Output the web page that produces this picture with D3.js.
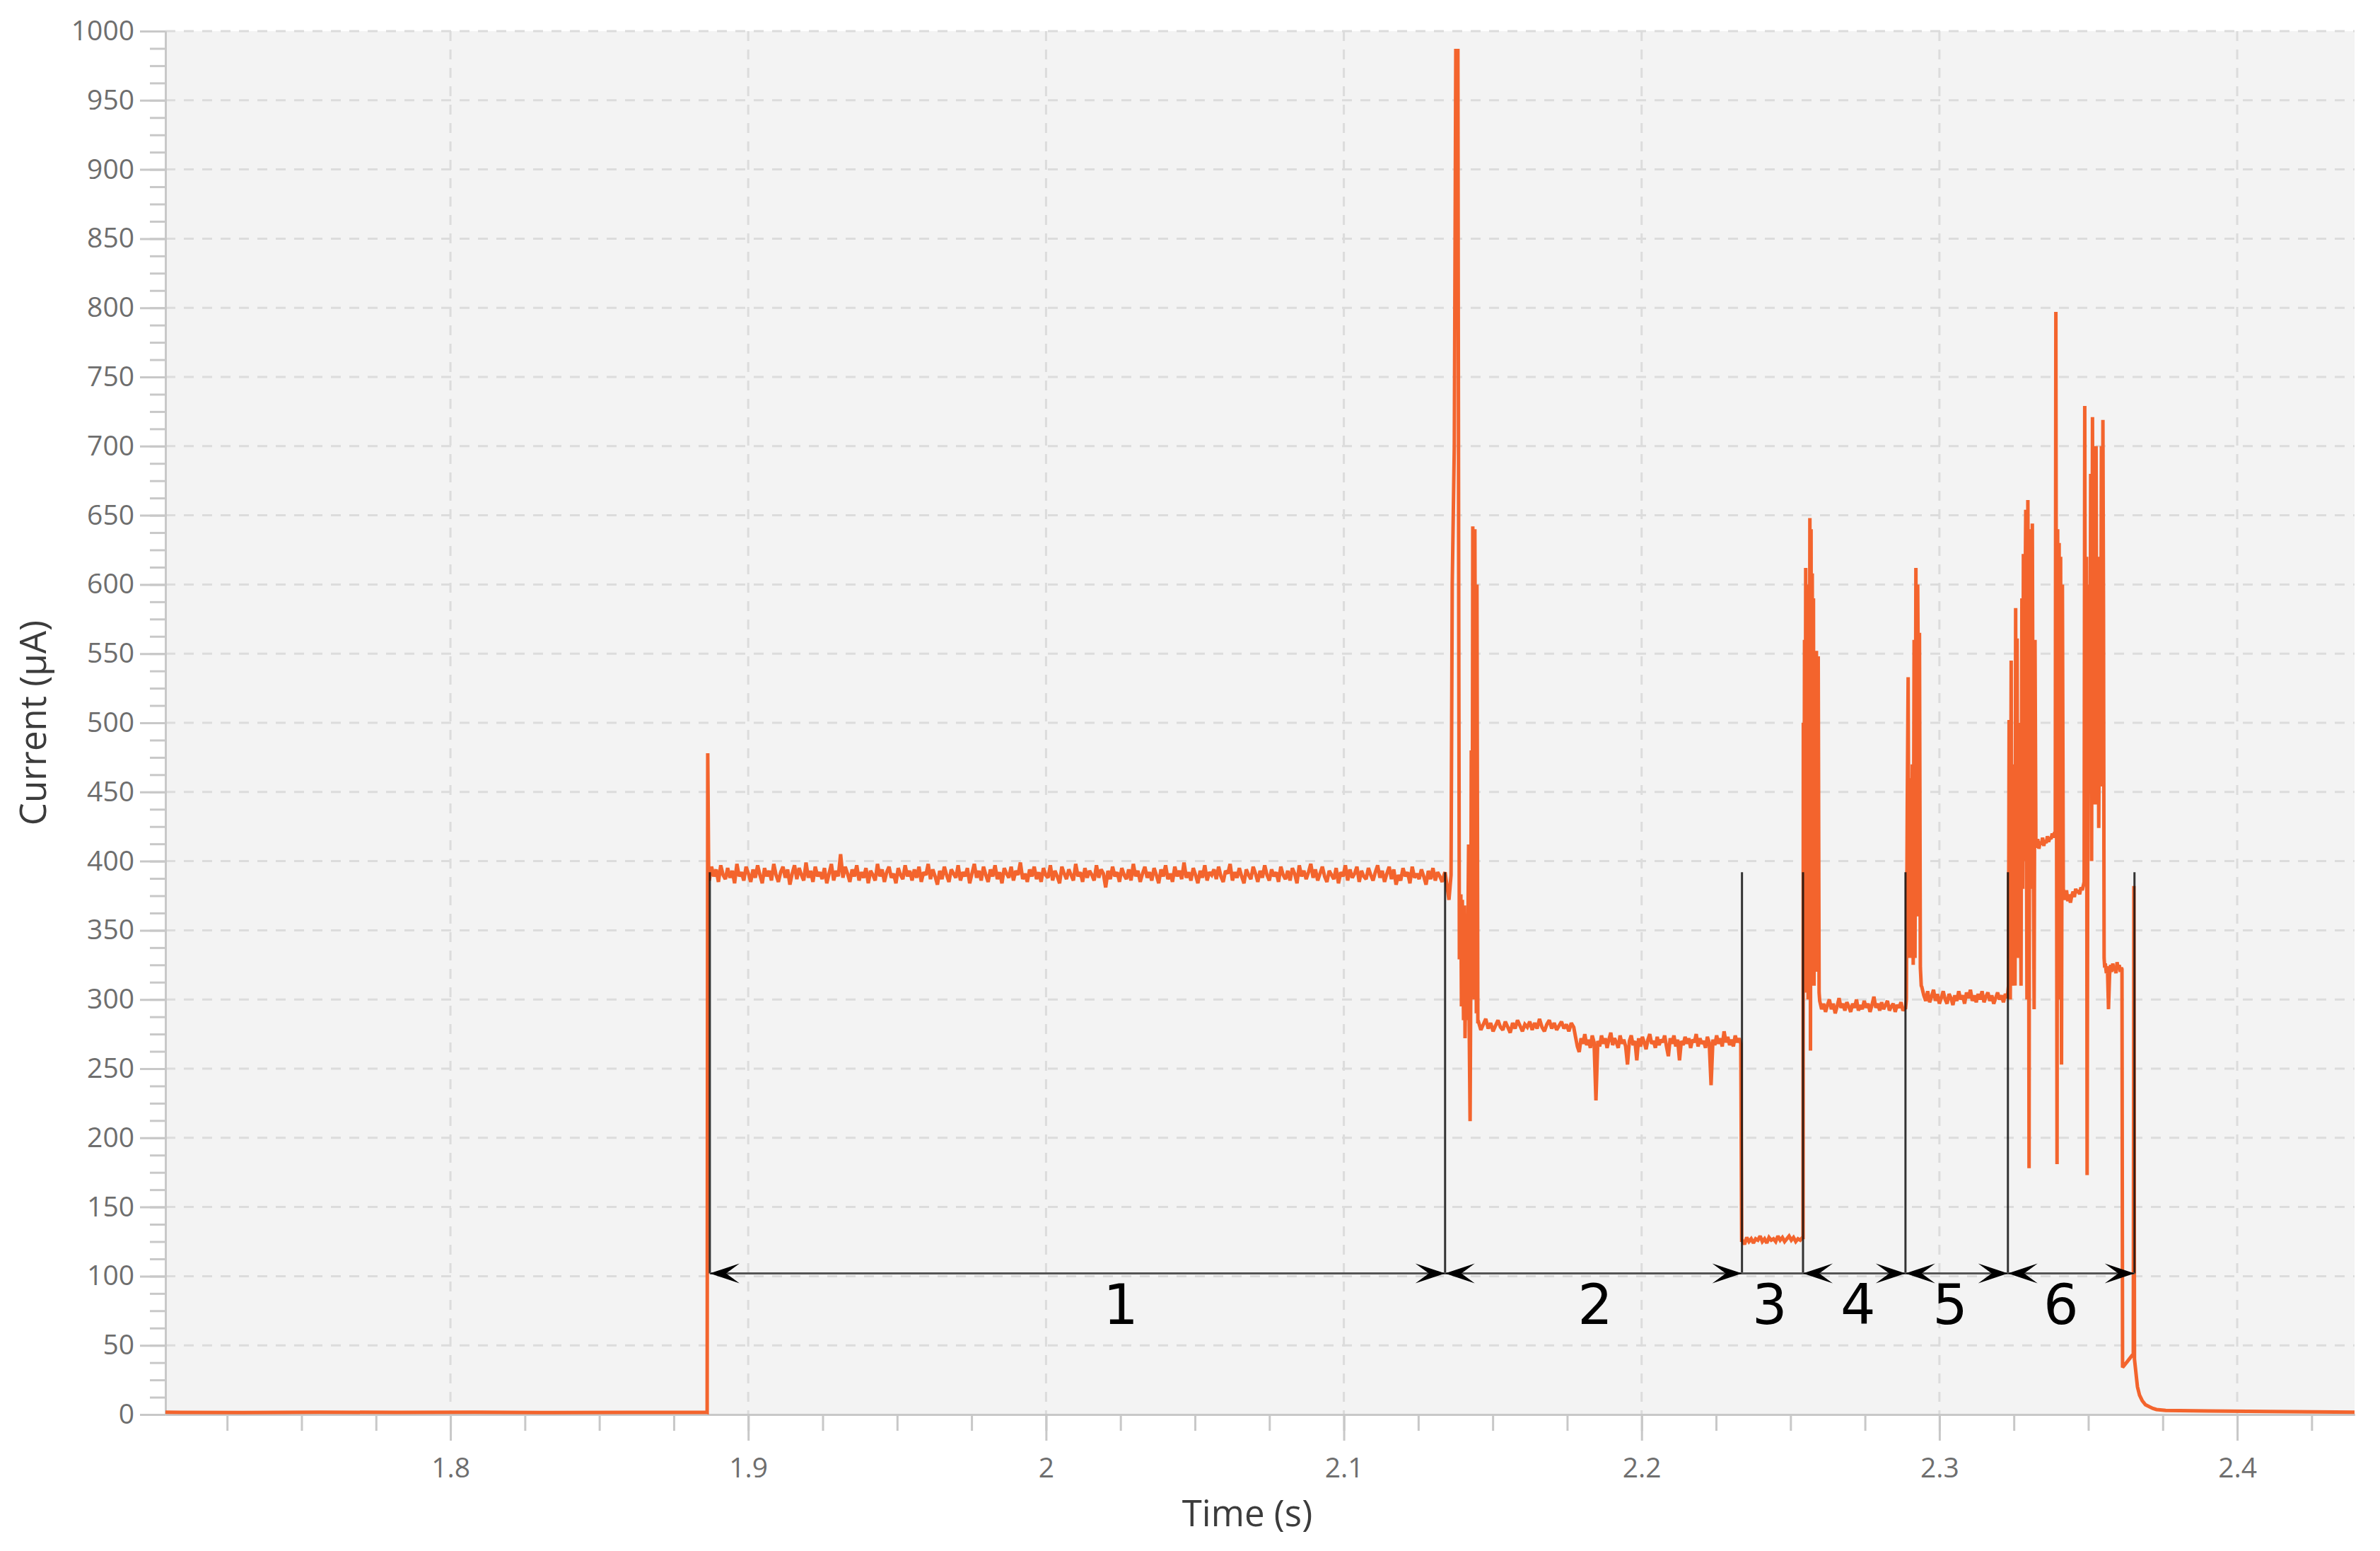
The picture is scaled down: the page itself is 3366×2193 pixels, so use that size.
<!DOCTYPE html>
<html>
<head>
<meta charset="utf-8">
<script src="https://cdn.jsdelivr.net/npm/d3@7"></script>
<style>
  body { margin: 0; background: #ffffff; }
  svg { display: block; }
  .axis text { font-family: "Open Sans", sans-serif; font-size: 39px; fill: #6e6e6e; }
  .axis line, .axis path { stroke: #c8c8c8; stroke-width: 3px; }
  .grid line { stroke: #dcdcdc; stroke-width: 3px; stroke-dasharray: 14 12; }
  .title { font-family: "Open Sans", sans-serif; font-size: 51px; fill: #3c3c3c; }
  .seg-label { font-family: "DejaVu Sans", sans-serif; font-size: 78px; fill: #000; }
</style>
</head>
<body>
<div class="svg-container"></div>
<script>

// ---- data (time in s, current in uA) ----

// axis ranges and ticks
var timeRange = [1.7043, 2.4394];
var currentRange = [0, 1000];
var timeTicks = [1.8, 1.9, 2.0, 2.1, 2.2, 2.3, 2.4];
var currentTicks = d3.range(0, 1001, 50);

// idle before wake-up (evenly spread samples)
var restValues = [1.6, 1.4, 1.7, 1.5, 1.6, 1.4, 1.5, 1.6];

// wake-up edge
var wakeEdge = [[1.8862, 1.5], [1.8864, 478], [1.8867, 395]];

// phase 1 plateau
var phase1Values = [
  386,396,389,394,385,397,390,387,395,388,
  393,384,398,389,392,386,396,391,385,394,
  388,397,390,384,395,389,393,386,398,390,
  385,392,396,388,394,383,391,397,387,395,
  390,386,399,388,393,385,396,389,392,387,
  395,384,391,398,386,393,389,405,388,396,
  391,385,394,389,397,386,392,388,395,384,
  393,390,386,398,389,394,385,392,396,388,
  391,384,395,390,387,397,389,393,386,394,
  388,396,385,392,390,398,387,394,389,383,
  393,387,396,390,385,394,391,388,397,386,
  392,389,395,384,391,398,388,393,386,396,
  390,385,394,389,397,387,392,384,395,391,
  388,396,386,393,390,399,387,391,385,394,
  389,396,387,392,385,395,390,388,397,386,
  393,389,384,396,391,387,394,390,386,398,
  389,392,385,395,388,393,390,386,397,388,
  394,391,381,393,387,396,389,392,385,395,
  390,387,394,386,398,389,393,385,391,396,
  388,392,386,395,390,384,394,389,397,387,
  391,385,396,389,393,387,399,388,392,386,
  395,390,384,393,388,397,386,392,390,394,
  387,396,389,385,393,391,398,386,392,388,
  395,389,384,394,390,387,396,391,385,393,
  388,397,390,386,394,389,392,385,396,390,
  387,393,386,395,391,384,397,389,393,387,
  392,398,388,394,386,391,396,389,385,393,
  390,387,395,384,392,389,397,386,394,388,
  391,396,385,393,389,387,395,390,386,392,
  397,388,393,385,391,396,387,394,383,390,
  386,395,389,392,384,396,388,391,387,394,
  389,383,393,387,395,386,392,389,385,391
];

// burst at the start of phase 2
var burst2 = [
  [2.1340, 392], [2.1353, 372], [2.1360, 390], [2.1364, 600], [2.1371, 700],
  [2.1376, 986], [2.1383, 986], [2.1386, 560], [2.1388, 329], [2.1393, 376],
  [2.1395, 295], [2.1398, 372], [2.1402, 285], [2.1405, 368], [2.1407, 272],
  [2.1412, 360], [2.1414, 285], [2.1419, 412], [2.1421, 280], [2.1424, 212],
  [2.1426, 300], [2.1428, 480], [2.1431, 320], [2.1433, 642], [2.1438, 300],
  [2.1440, 640], [2.1445, 290], [2.1447, 600], [2.1450, 284]
];

var phase2aValues = [
  284,278,282,286,279,283,277,281,285,280,
  278,284,280,276,283,279,285,281,277,282,
  280,284,278,283,279,286,280,277,282,285,
  279,283,278,281,284,279,282,277,283,280
];

var phase2bValues = [
  273,266,262,272,268,275,267,271,265,274,
  269,227,270,266,274,268,272,265,271,276,
  267,272,269,265,274,268,271,266,253,270,
  274,267,270,256,272,266,273,269,264,271,
  275,268,270,265,273,267,271,269,274,266,
  259,272,268,274,266,271,256,270,267,273,
  268,272,265,271,269,275,266,272,268,270,
  265,273,269,238,271,267,274,268,272,266,
  277,269,273,267,271,266,274,269,272,268
];

var phase3Values = [
  126,123,128,125,127,124,127,126,129,125,127,124,128,126,
  127,125,129,126,128,125,127,129,126,128,125,127,126,128
];

var burst4 = [
  [2.2542, 128], [2.2543, 500], [2.2545, 310], [2.2547, 560], [2.2549, 320],
  [2.2551, 612], [2.2553, 305], [2.2555, 600], [2.2557, 420], [2.2559, 300],
  [2.2561, 560], [2.2563, 320], [2.2565, 648], [2.2567, 263], [2.2569, 640],
  [2.2571, 330], [2.2573, 608], [2.2575, 340], [2.2577, 590], [2.2579, 310],
  [2.2581, 550], [2.2584, 320], [2.2587, 552], [2.2590, 330], [2.2593, 548],
  [2.2596, 305]
];

var phase4Values = [
  299,293,297,291,296,300,293,297,290,295,301,294,297,292,298,
  295,291,297,294,300,292,296,293,299,294,297,291,296,302,294,
  297,292,298,293,296,299,292,295,297,291,296,294,298,292,294
];

var burst5 = [
  [2.2886, 293], [2.2889, 300], [2.2892, 440], [2.2895, 533], [2.2898, 330],
  [2.2900, 460], [2.2903, 455], [2.2906, 330], [2.2909, 470], [2.2912, 325],
  [2.2915, 560], [2.2918, 330], [2.2921, 612], [2.2924, 360], [2.2927, 600],
  [2.2930, 500], [2.2933, 565], [2.2936, 323], [2.2939, 310]
];

var phase5Values = [
  309,303,299,306,298,302,307,299,304,297,301,306,300,297,304,
  301,296,303,299,306,300,303,297,305,301,307,299,303,298,304,
  300,306,298,302,305,299,303,297,301,305,300,303,298,304,301
];

var burst6a = [
  [2.3229, 303], [2.3232, 310], [2.3234, 502], [2.3236, 320], [2.3238, 300],
  [2.3241, 545], [2.3243, 310], [2.3246, 470], [2.3248, 320], [2.3251, 400],
  [2.3254, 310], [2.3256, 583], [2.3258, 340], [2.3261, 561], [2.3263, 330],
  [2.3266, 500], [2.3268, 335], [2.3271, 420], [2.3274, 310], [2.3277, 590],
  [2.3280, 380], [2.3282, 622], [2.3285, 400], [2.3288, 600], [2.3290, 654],
  [2.3292, 450], [2.3294, 300], [2.3297, 661], [2.3299, 500], [2.3301, 178],
  [2.3303, 560], [2.3306, 640], [2.3309, 380], [2.3312, 644], [2.3315, 420],
  [2.3318, 293], [2.3321, 560], [2.3324, 410]
];
var phase6aValues = [411,416,409,414,412,417,411,415,413,418,414,417,416,420,417,421];

var burst6b = [
  [2.3389, 419], [2.3391, 797], [2.3393, 500], [2.3395, 181], [2.3397, 640],
  [2.3400, 300], [2.3402, 630], [2.3405, 400], [2.3407, 620], [2.3410, 253],
  [2.3413, 600], [2.3416, 380]
];
var phase6bValues = [377,372,379,371,376,370,375,378,374,380,377,379,376,381,379,383];

var burst6c = [
  [2.3486, 385], [2.3488, 729], [2.3491, 400], [2.3494, 620], [2.3496, 173],
  [2.3499, 500], [2.3502, 600], [2.3505, 454], [2.3508, 680], [2.3511, 400],
  [2.3514, 721], [2.3517, 450], [2.3520, 640], [2.3523, 441], [2.3526, 700],
  [2.3529, 459], [2.3532, 620], [2.3535, 424], [2.3538, 560], [2.3541, 454],
  [2.3544, 700], [2.3547, 500], [2.3549, 719], [2.3551, 580], [2.3553, 330],
  [2.3555, 323]
];
var phase6cValues = [326,319,324,293,318,325,320,326,321,324,319,327,322,325,320,323];

// shutdown and decay
var shutdown = [
  [2.3613, 322], [2.3615, 34], [2.3630, 38], [2.3648, 43], [2.3651, 42],
  [2.3653, 382], [2.3655, 40], [2.3658, 34], [2.3662, 26], [2.3665, 20],
  [2.3672, 14], [2.3681, 10], [2.3692, 7], [2.3705, 5.6], [2.3717, 4.4],
  [2.3729, 3.6], [2.3760, 3], [2.3900, 2.6], [2.4100, 2.2], [2.4394, 1.6]
];

// annotation: phase boundaries and labels
var boundaryTimes = [1.8871, 2.1340, 2.2337, 2.2542, 2.2886, 2.3230, 2.3655];
var boundaryTop = 392;
var arrowLevel = 102;
var phaseNames = ["1", "2", "3", "4", "5", "6"];
var phaseLabelTimes = [2.0251, 2.1844, 2.2430, 2.2727, 2.3036, 2.3408];
var phaseHasHeads = [true, true, false, true, true, true];


// spread evenly sampled values over a time span
function spread(t0, t1, values) {
  var n = values.length;
  return values.map(function(v, i) { return [t0 + i * (t1 - t0) / (n - 1), v]; });
}

var trace = [].concat(
  spread(timeRange[0], 1.8860, restValues),
  wakeEdge,
  spread(1.8869, 2.1338, phase1Values),
  burst2,
  spread(2.1452, 2.1772, phase2aValues),
  spread(2.1778, 2.2333, phase2bValues),
  [[2.2336, 126]],
  spread(2.2338, 2.2540, phase3Values),
  burst4,
  spread(2.2598, 2.2884, phase4Values),
  burst5,
  spread(2.2941, 2.3228, phase5Values),
  burst6a,
  spread(2.3326, 2.3387, phase6aValues),
  burst6b,
  spread(2.3418, 2.3484, phase6bValues),
  burst6c,
  spread(2.3557, 2.3611, phase6cValues),
  shutdown
);

// ---- chart ----

var margin = {top: 44, right: 36, bottom: 193, left: 234},
    width = 3366 - margin.left - margin.right,
    height = 2193 - margin.top - margin.bottom;

var svg = d3.select(".svg-container").append("svg")
  .attr("width", 3366)
  .attr("height", 2193);

var g = svg.append("g")
  .attr("transform", "translate(" + margin.left + "," + margin.top + ")");

var x = d3.scaleLinear().domain(timeRange).range([0, width]);
var y = d3.scaleLinear().domain(currentRange).range([height, 0]);

// plot background
g.append("rect")
  .attr("width", width)
  .attr("height", height)
  .attr("fill", "#f3f3f3");

// grid lines
g.append("g").attr("class", "grid")
  .selectAll("line")
  .data(currentTicks.filter(function(d) { return d > 0; }))
  .enter().append("line")
  .attr("x1", 0).attr("x2", width)
  .attr("y1", function(d) { return y(d); })
  .attr("y2", function(d) { return y(d); });

g.append("g").attr("class", "grid")
  .selectAll("line")
  .data(timeTicks)
  .enter().append("line")
  .attr("y1", 0).attr("y2", height)
  .attr("x1", function(d) { return x(d); })
  .attr("x2", function(d) { return x(d); });

// minor ticks
var minorY = d3.range(0, 1000.1, 12.5);
var minorX = d3.range(1.725, 2.43, 0.025);

g.append("g").attr("class", "axis")
  .call(d3.axisLeft(y).tickValues(minorY).tickSize(22).tickSizeOuter(0).tickFormat(""));

g.append("g").attr("class", "axis")
  .attr("transform", "translate(0," + height + ")")
  .call(d3.axisBottom(x).tickValues(minorX).tickSize(23).tickSizeOuter(0).tickFormat(""));

// major ticks with labels
g.append("g").attr("class", "axis")
  .call(d3.axisLeft(y).tickValues(currentTicks).tickSize(36).tickSizeOuter(0).tickPadding(8)
    .tickFormat(d3.format("d")));

g.append("g").attr("class", "axis")
  .attr("transform", "translate(0," + height + ")")
  .call(d3.axisBottom(x).tickValues(timeTicks).tickSize(37).tickSizeOuter(0).tickPadding(24)
    .tickFormat(function(d) { return String(+d.toFixed(1)); }));

// the current trace
var line = d3.line()
  .x(function(d) { return x(d[0]); })
  .y(function(d) { return y(d[1]); });

g.append("path")
  .datum(trace)
  .attr("d", line)
  .attr("fill", "none")
  .attr("stroke", "#f3642d")
  .attr("stroke-width", 5)
  .attr("stroke-linejoin", "miter")
  .attr("stroke-miterlimit", 2);

// phase boundaries
g.append("g")
  .selectAll("line")
  .data(boundaryTimes)
  .enter().append("line")
  .attr("x1", function(d) { return x(d); })
  .attr("x2", function(d) { return x(d); })
  .attr("y1", y(boundaryTop))
  .attr("y2", y(arrowLevel))
  .attr("stroke", "#111")
  .attr("stroke-opacity", 0.85)
  .attr("stroke-width", 3);

// dimension line
g.append("line")
  .attr("x1", x(boundaryTimes[0]))
  .attr("x2", x(boundaryTimes[boundaryTimes.length - 1]))
  .attr("y1", y(arrowLevel))
  .attr("y2", y(arrowLevel))
  .attr("stroke", "#555")
  .attr("stroke-width", 3);

// arrow heads, tip sits on the boundary
var headLen = 42, headHalf = 14, notch = 23;
function head(tipX, dir) {
  var ty = y(arrowLevel);
  return "M" + tipX + "," + ty +
    "L" + (tipX - dir * headLen) + "," + (ty - headHalf) +
    "L" + (tipX - dir * notch) + "," + ty +
    "L" + (tipX - dir * headLen) + "," + (ty + headHalf) + "Z";
}

var heads = [];
phaseNames.forEach(function(name, i) {
  if (!phaseHasHeads[i]) return;
  heads.push(head(x(boundaryTimes[i]), -1));
  heads.push(head(x(boundaryTimes[i + 1]), 1));
});

g.append("g")
  .selectAll("path")
  .data(heads)
  .enter().append("path")
  .attr("d", function(d) { return d; })
  .attr("fill", "#000");

// phase numbers
g.append("g")
  .selectAll("text")
  .data(phaseNames)
  .enter().append("text")
  .attr("class", "seg-label")
  .attr("x", function(d, i) { return x(phaseLabelTimes[i]); })
  .attr("y", y(arrowLevel) + 72)
  .attr("text-anchor", "middle")
  .text(function(d) { return d; });

// axis titles
g.append("text")
  .attr("class", "title")
  .attr("x", width / 2 - 18)
  .attr("y", height + 158)
  .attr("text-anchor", "middle")
  .text("Time (s)");

g.append("text")
  .attr("class", "title")
  .attr("transform", "rotate(-90)")
  .attr("x", -height / 2)
  .attr("y", 47 - margin.left)
  .attr("dy", "0.35em")
  .attr("text-anchor", "middle")
  .text("Current (µA)");

</script>
</body>
</html>
